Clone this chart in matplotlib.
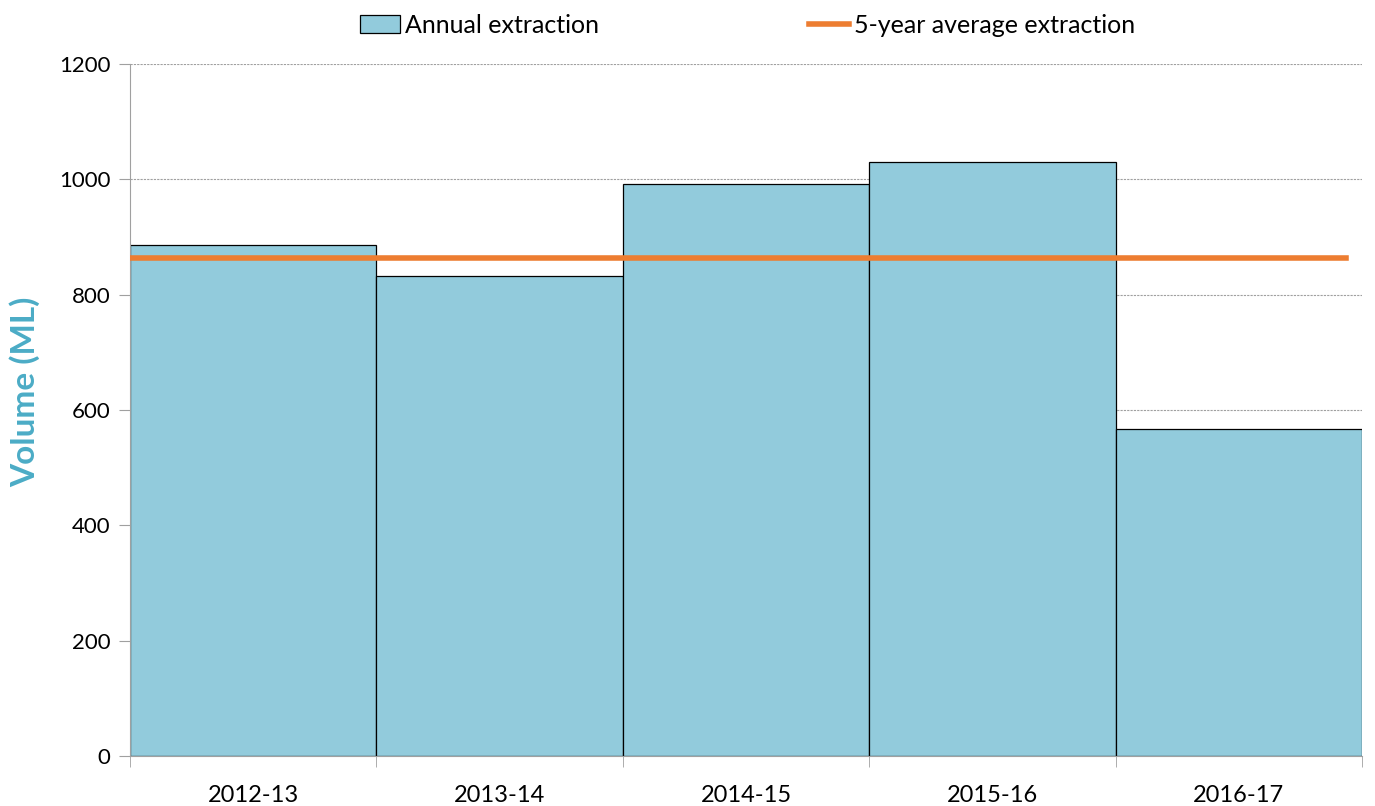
import matplotlib.pyplot as plt
import numpy as np
from matplotlib.ticker import FixedLocator, NullFormatter

years = ["2012-13", "2013-14", "2014-15", "2015-16", "2016-17"]
annual = [886, 832, 992, 1030, 567]
avg_5yr = 863

plt.rcParams['font.family'] = ['Lato', 'DejaVu Sans']

fig = plt.figure(figsize=(13.75, 8.06), dpi=100)
ax = fig.add_axes([130 / 1375, 1 - 756 / 806, 1232 / 1375, 692 / 806])

x = np.arange(len(years))
bars = ax.bar(x, annual, width=1.0, color='#92CBDC', edgecolor='black', linewidth=0.9,
              label='Annual extraction', zorder=2)
avg_line = ax.axhline(avg_5yr, xmin=0, xmax=0.987, color='#ED7D31', linewidth=4,
                      label='5-year average extraction', zorder=3)

ax.set_xlim(-0.5, len(years) - 0.5)
ax.set_ylim(0, 1200)
ax.set_yticks(np.arange(0, 1201, 200))
ax.yaxis.grid(True, linestyle=(0, (2, 1)), color='#A0A0A0', linewidth=0.8, zorder=0)
ax.set_axisbelow(True)

# category labels centered, ticks on boundaries
ax.set_xticks(x)
ax.set_xticklabels(years, fontsize=17)
ax.tick_params(axis='x', length=0, pad=21)
ax.xaxis.set_minor_locator(FixedLocator(np.arange(-0.5, len(years), 1.0)))
ax.xaxis.set_minor_formatter(NullFormatter())
ax.tick_params(axis='x', which='minor', length=8, color='#A0A0A0')
ax.tick_params(axis='y', length=8, color='#A0A0A0', labelsize=16, pad=6)

for side in ['top', 'right']:
    ax.spines[side].set_visible(False)
for side in ['left', 'bottom']:
    ax.spines[side].set_color('#A0A0A0')

ax.set_ylabel('Volume (ML)', fontsize=24, fontweight='bold', color='#4BACC6')
ax.yaxis.set_label_coords(-0.073, 0.527)

fig.legend(handles=[bars, avg_line], loc='upper center', bbox_to_anchor=(0.544, 1.011),
           ncol=2, frameon=False, fontsize=18, columnspacing=8.4, handlelength=1.6,
           handletextpad=0.2)

fig.savefig('out.png', dpi=100)
